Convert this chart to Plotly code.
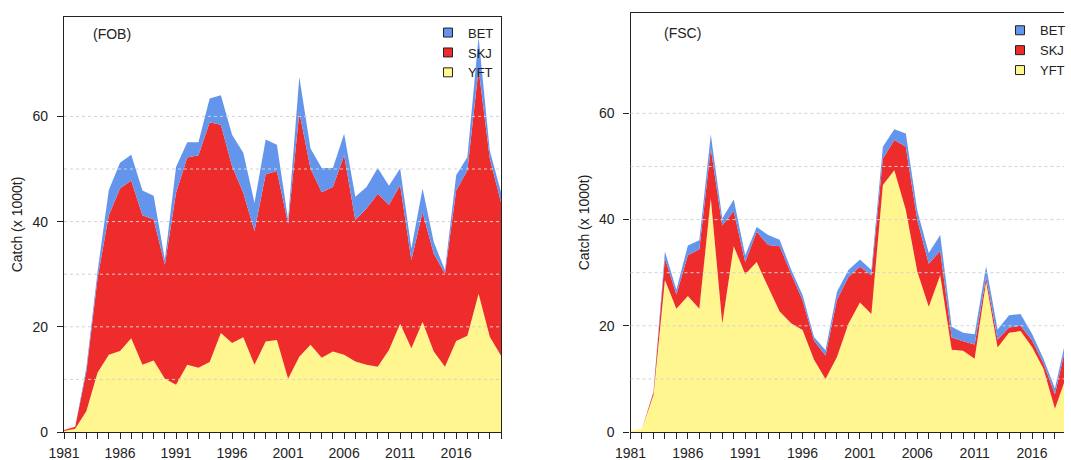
import plotly.graph_objects as go

# ---------------- data (catch, x 1000 t) ----------------
years_fob = list(range(1981, 2021))
fob_yft = [0.2, 0.6, 4.0, 11.3, 14.7, 15.4, 17.8, 12.8, 13.6, 10.1,
           9.0, 12.8, 12.2, 13.3, 18.8, 16.9, 18.0, 12.8, 17.2, 17.5,
           10.1, 14.3, 16.6, 14.1, 15.3, 14.7, 13.4, 12.8, 12.4, 15.6,
           20.6, 15.9, 20.9, 15.3, 12.4, 17.3, 18.3, 26.3, 18.1, 14.5]
fob_skj = [0.2, 0.4, 7.5, 18.0, 26.5, 30.9, 30.0, 28.4, 26.8, 21.7,
           36.5, 39.4, 40.4, 45.6, 39.6, 33.6, 27.5, 25.4, 31.8, 32.1,
           29.5, 46.5, 33.5, 31.5, 31.3, 37.9, 26.9, 29.7, 32.9, 27.6,
           26.3, 16.8, 20.9, 18.6, 17.7, 28.6, 31.4, 42.7, 33.9, 29.2]
fob_bet = [0.0, 0.0, 0.8, 1.3, 4.8, 4.9, 4.9, 4.7, 4.5, 1.0,
           4.9, 2.9, 2.5, 4.5, 5.6, 6.0, 7.6, 5.4, 6.6, 5.0,
           0.8, 6.7, 3.8, 4.6, 3.6, 4.1, 4.4, 4.1, 4.9, 3.6,
           3.2, 2.2, 4.5, 2.2, 0.7, 2.9, 2.6, 6.1, 1.5, 1.9]

years_fsc = list(range(1981, 2020))
fsc_yft = [0.2, 0.6, 6.9, 28.6, 23.2, 25.6, 23.2, 44.0, 20.4, 35.0,
           29.7, 32.0, 27.3, 22.7, 20.5, 19.2, 13.6, 10.0, 14.1, 20.4,
           24.4, 22.2, 46.5, 49.3, 41.8, 30.2, 23.6, 29.5, 15.5, 15.3,
           13.8, 28.3, 15.9, 18.7, 19.0, 16.0, 11.9, 4.4, 10.5]
fsc_skj = [0.0, 0.0, 0.6, 4.1, 2.7, 7.7, 11.2, 9.4, 18.5, 6.6,
           2.3, 5.7, 7.9, 12.3, 9.3, 5.6, 3.6, 4.4, 10.8, 8.8,
           6.7, 7.3, 5.0, 5.7, 11.9, 9.7, 8.1, 4.6, 2.3, 1.8,
           2.7, 0.9, 1.5, 1.0, 1.0, 1.3, 1.0, 2.7, 6.1]
fsc_bet = [0.0, 0.0, 0.05, 1.3, 0.9, 1.8, 1.7, 2.6, 1.3, 2.2,
           1.3, 0.9, 1.9, 1.2, 0.8, 1.0, 0.7, 1.0, 1.5, 1.3,
           1.4, 1.0, 2.2, 2.0, 2.5, 1.8, 2.0, 3.0, 2.0, 1.6,
           1.9, 2.0, 1.9, 2.3, 2.2, 1.2, 0.9, 1.1, 1.3]

species = ["YFT", "SKJ", "BET"]
legend_order = ["BET", "SKJ", "YFT"]
colors = {"YFT": "#FFF68F", "SKJ": "#EE2C2C", "BET": "#6495ED"}
y_tick_vals = [0, 20, 40, 60]
grid_levels = [10, 20, 30, 40, 50, 60]
panel_labels = ["(FOB)", "(FSC)"]

FONT = "Liberation Sans, Arial, Helvetica, sans-serif"
INK = "#222222"

fig = go.Figure()

panels = [
    (years_fob, {"YFT": fob_yft, "SKJ": fob_skj, "BET": fob_bet}, "x", "y", "fob"),
    (years_fsc, {"YFT": fsc_yft, "SKJ": fsc_skj, "BET": fsc_bet}, "x2", "y2", "fsc"),
]
for yrs, series, xa, ya, grp in panels:
    for sp in species:
        fig.add_trace(go.Scatter(
            x=yrs, y=series[sp], mode="none", stackgroup=grp,
            fillcolor=colors[sp], name=sp, showlegend=False,
            xaxis=xa, yaxis=ya, hoverinfo="skip",
            legend="legend" if xa == "x" else "legend2"))

# legend entries (square keys), BET on top
for leg, xa, ya in [("legend", "x", "y"), ("legend2", "x2", "y2")]:
    for sp in legend_order:
        fig.add_trace(go.Scatter(
            x=[None], y=[None], mode="markers", name=sp,
            marker=dict(symbol="square", size=9, color=colors[sp],
                        line=dict(color=INK, width=1)),
            xaxis=xa, yaxis=ya, legend=leg, showlegend=True))

xaxis_common = dict(
    tick0=1981, dtick=5, ticks="outside", ticklen=6, tickwidth=1, tickcolor=INK,
    showline=True, linecolor=INK, linewidth=1.3, showgrid=False, zeroline=False,
    tickfont=dict(size=14, color=INK, family=FONT),
    minor=dict(tick0=1981, dtick=1, ticks="outside", ticklen=6, tickwidth=1,
               tickcolor=INK, showgrid=False),
    ticklabelstandoff=2,
)
yaxis_common = dict(
    tickvals=y_tick_vals, ticks="outside", ticklen=6, tickwidth=1, tickcolor=INK,
    showline=True, linecolor=INK, linewidth=1.3, showgrid=False, zeroline=False,
    tickfont=dict(size=14, color=INK, family=FONT),
    ticklabelstandoff=6,
    title=dict(text="Catch (x 1000t)", font=dict(size=14, color=INK, family=FONT),
               standoff=6),
)

legend_common = dict(xanchor="left", yanchor="top", bgcolor="rgba(0,0,0,0)",
                     font=dict(size=13, color=INK, family=FONT),
                     tracegroupgap=0, traceorder="normal", itemclick=False)

fig.update_layout(
    width=1071, height=460,
    margin=dict(l=64, r=0, t=13, b=28),
    paper_bgcolor="white", plot_bgcolor="white",
    font=dict(family=FONT, color=INK),
    xaxis=dict(domain=[0, 0.437], range=[1981, 2020], mirror=True, anchor="y",
               **xaxis_common),
    yaxis=dict(domain=[0, 0.9905], range=[0, 78.9], mirror=True, anchor="x",
               **yaxis_common),
    xaxis2=dict(domain=[0.5665, 1.0], range=[1981, 2018.79], mirror=True, anchor="y2",
                **xaxis_common),
    yaxis2=dict(domain=[0, 1.0], range=[0, 78.9], mirror=False, anchor="x2",
                **yaxis_common),
    legend=dict(x=0.364, y=0.989, **legend_common),
    legend2=dict(x=0.936, y=0.9945, **legend_common),
)

# dashed reference lines drawn over the areas
shapes = []
for xref, yref in [("x domain", "y"), ("x2 domain", "y2")]:
    for lv in grid_levels:
        shapes.append(dict(type="line", xref=xref, yref=yref, x0=0, x1=1, y0=lv, y1=lv,
                           line=dict(color="#D3D3D3", width=1, dash="3px,3px"),
                           layer="above"))
fig.update_layout(shapes=shapes)

for lab, xref, yref, xx, yy in [(panel_labels[0], "x domain", "y domain", 0.061, 0.959),
                                (panel_labels[1], "x2 domain", "y2 domain", 0.072, 0.952)]:
    fig.add_annotation(text=lab, xref=xref, yref=yref, x=xx, y=yy,
                       xanchor="left", yanchor="middle", showarrow=False,
                       font=dict(size=14, color=INK, family=FONT))

fig.write_html("out.html",
               config={"displayModeBar": False},
               post_script="document.body.style.margin='0';document.body.style.overflow='hidden';")
